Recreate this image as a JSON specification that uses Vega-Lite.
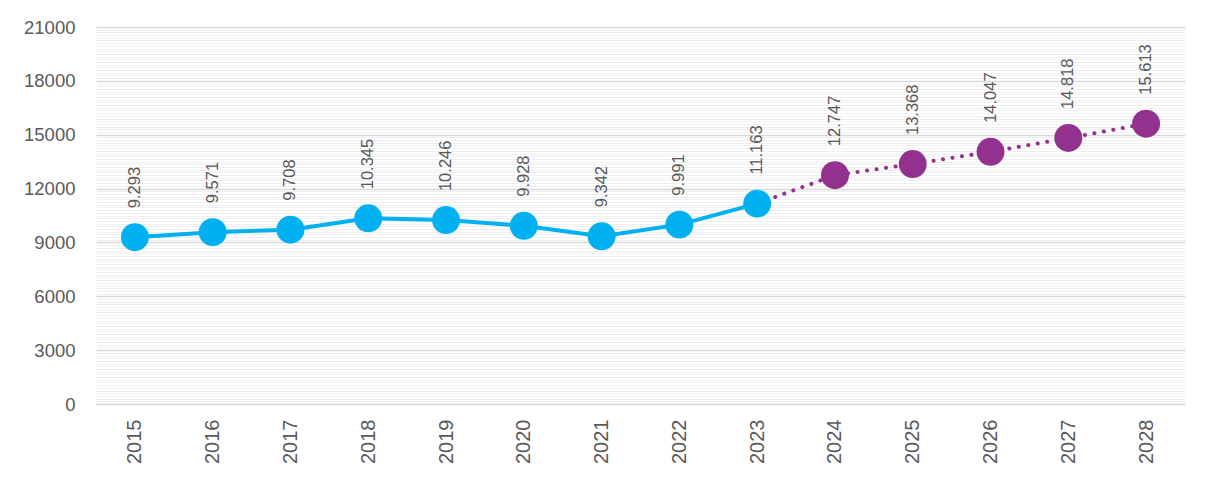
{
  "$schema": "https://vega.github.io/schema/vega-lite/v6.json",
  "autosize": {"type": "none"},
  "width": 1089,
  "height": 377,
  "padding": {"left": 96, "top": 27, "right": 30, "bottom": 84},
  "background": "white",
  "config": {
    "locale": {"number": {"decimal": ",", "thousands": ".", "grouping": [3], "currency": ["", ""]}},
    "font": "Liberation Sans",
    "view": {"stroke": null}
  },
  "data": {
    "values": [
      {"year": 2015, "value": 9293, "series": "actual"},
      {"year": 2016, "value": 9571, "series": "actual"},
      {"year": 2017, "value": 9708, "series": "actual"},
      {"year": 2018, "value": 10345, "series": "actual"},
      {"year": 2019, "value": 10246, "series": "actual"},
      {"year": 2020, "value": 9928, "series": "actual"},
      {"year": 2021, "value": 9342, "series": "actual"},
      {"year": 2022, "value": 9991, "series": "actual"},
      {"year": 2023, "value": 11163, "series": "actual"},
      {"year": 2024, "value": 12747, "series": "forecast"},
      {"year": 2025, "value": 13368, "series": "forecast"},
      {"year": 2026, "value": 14047, "series": "forecast"},
      {"year": 2027, "value": 14818, "series": "forecast"},
      {"year": 2028, "value": 15613, "series": "forecast"}
    ]
  },
  "encoding": {
    "x": {
      "field": "year", "type": "ordinal",
      "scale": {"type": "point", "padding": 0.5},
      "axis": {
        "title": null, "labelAngle": 270, "labelFontSize": 20, "labelColor": "#595959",
        "ticks": false, "domain": true, "domainColor": "#d9d9d9", "domainWidth": 1.5,
        "labelPadding": 15, "grid": false, "labelBaseline": "middle", "labelAlign": "right"
      }
    },
    "y": {
      "field": "value", "type": "quantitative",
      "scale": {"domain": [0, 21000], "nice": false}
    }
  },
  "layer": [
    {
      "mark": {"type": "line", "color": "#00B0F0", "strokeWidth": 4},
      "transform": [{"filter": "datum.series == 'actual'"}],
      "encoding": {
        "y": {
          "field": "value", "type": "quantitative",
          "axis": {
            "title": null, "orient": "left", "values": [0,150,300,450,600,750,900,1050,1200,1350,1500,1650,1800,1950,2100,2250,2400,2550,2700,2850,3000,3150,3300,3450,3600,3750,3900,4050,4200,4350,4500,4650,4800,4950,5100,5250,5400,5550,5700,5850,6000,6150,6300,6450,6600,6750,6900,7050,7200,7350,7500,7650,7800,7950,8100,8250,8400,8550,8700,8850,9000,9150,9300,9450,9600,9750,9900,10050,10200,10350,10500,10650,10800,10950,11100,11250,11400,11550,11700,11850,12000,12150,12300,12450,12600,12750,12900,13050,13200,13350,13500,13650,13800,13950,14100,14250,14400,14550,14700,14850,15000,15150,15300,15450,15600,15750,15900,16050,16200,16350,16500,16650,16800,16950,17100,17250,17400,17550,17700,17850,18000,18150,18300,18450,18600,18750,18900,19050,19200,19350,19500,19650,19800,19950,20100,20250,20400,20550,20700,20850,21000],
            "grid": true, "gridColor": "#efefef", "gridWidth": 1,
            "labels": false, "ticks": false, "domain": false, "zindex": 0
          }
        }
      }
    },
    {
      "mark": {"type": "line", "color": "#93328E", "strokeWidth": 4, "strokeDash": [0.1, 9.5], "strokeCap": "round"},
      "transform": [{"filter": "datum.year >= 2023"}],
      "encoding": {
        "y": {
          "field": "value", "type": "quantitative",
          "axis": {
            "title": null, "orient": "left", "values": [0, 3000, 6000, 9000, 12000, 15000, 18000, 21000],
            "format": "d", "labelFontSize": 18.5, "labelColor": "#595959", "labelPadding": 21,
            "grid": true, "gridColor": "#d9d9d9", "gridWidth": 1.5,
            "ticks": false, "domain": false, "zindex": 0
          }
        }
      }
    },
    {
      "mark": {"type": "circle", "opacity": 1, "size": 780},
      "encoding": {
        "y": {"field": "value", "type": "quantitative", "axis": null},
        "color": {
          "field": "series", "type": "nominal",
          "scale": {"domain": ["actual", "forecast"], "range": ["#00B0F0", "#93328E"]},
          "legend": null
        }
      }
    },
    {
      "mark": {"type": "text", "angle": 270, "align": "left", "baseline": "middle", "fontSize": 16.5, "color": "#595959", "yOffset": -29},
      "encoding": {
        "y": {"field": "value", "type": "quantitative", "axis": null},
        "text": {"field": "value", "type": "quantitative", "format": ",.0f"}
      }
    }
  ],
  "resolve": {"axis": {"y": "independent"}}
}
